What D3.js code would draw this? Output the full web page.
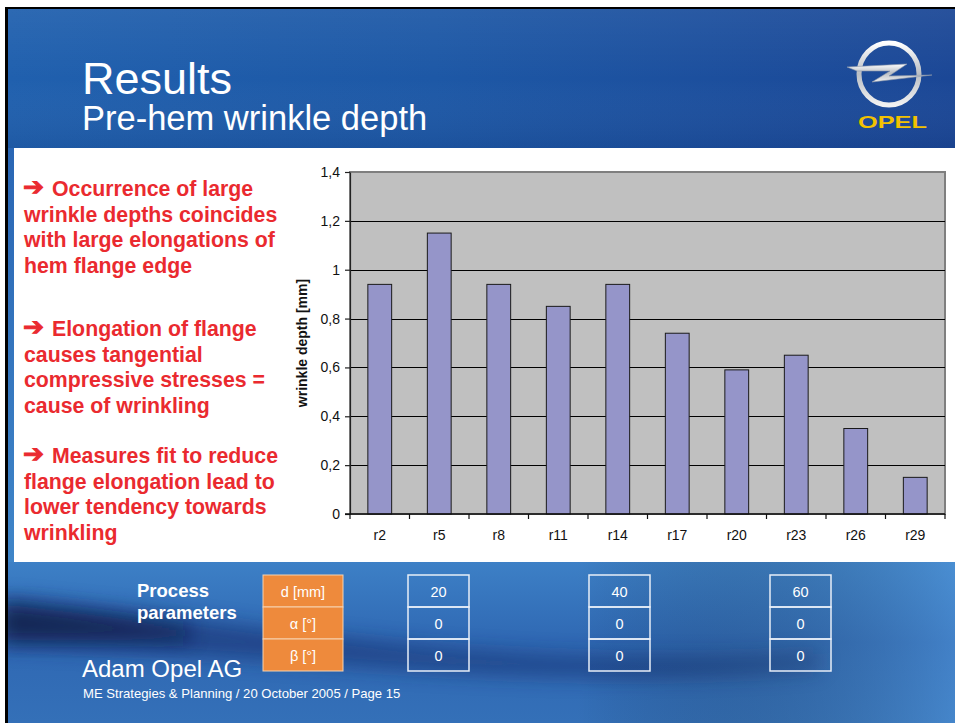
<!DOCTYPE html>
<html>
<head>
<meta charset="utf-8">
<script src="https://cdn.jsdelivr.net/npm/d3@7"></script>
<style>
  body { margin: 0; background: #fff; }
  svg { display: block; }
</style>
</head>
<body>
<div id="chart"></div>
<script>
// chart data
const categories = ['r2', 'r5', 'r8', 'r11', 'r14', 'r17', 'r20', 'r23', 'r26', 'r29']
const wrinkleDepth = [0.94, 1.15, 0.94, 0.85, 0.94, 0.74, 0.59, 0.65, 0.35, 0.15]
const yTicks = [0, 0.2, 0.4, 0.6, 0.8, 1, 1.2, 1.4]

// process parameter table
const paramLabels = ['d [mm]', 'α [°]', 'β [°]']
const paramSets = [[20, 0, 0], [40, 0, 0], [60, 0, 0]]

// slide text
const bullets = [
  ['Occurrence of large', 'wrinkle depths coincides', 'with large elongations of', 'hem flange edge'],
  ['Elongation of flange', 'causes tangential', 'compressive stresses =', 'cause of wrinkling'],
  ['Measures fit to reduce', 'flange elongation lead to', 'lower tendency towards', 'wrinkling']
]

const W = 955, H = 723
const plot = { left: 350, right: 945, top: 172, bottom: 514 }

const svg = d3.select('#chart').append('svg')
  .attr('width', W)
  .attr('height', H)
  .style('font-family', 'Arial, "Liberation Sans", Helvetica, sans-serif')

const defs = svg.append('defs')

const lin = (id, x2, y2, stops) => {
  const g = defs.append('linearGradient').attr('id', id)
    .attr('x1', 0).attr('y1', 0).attr('x2', x2).attr('y2', y2)
  stops.forEach(s => g.append('stop').attr('offset', s[0]).attr('stop-color', s[1]))
}
lin('head', 1, 0, [[0, '#2060ae'], [0.45, '#1d58a6'], [1, '#1b4796']])
lin('headV', 0, 1, [[0, 'rgba(255,255,255,0.06)'], [0.5, 'rgba(255,255,255,0)'], [1, 'rgba(0,0,40,0.08)']])
lin('foot', 0, 1, [[0, '#3d80c6'], [0.5, '#2f68b3'], [1, '#3470b8']])
lin('footH', 1, 0, [[0, 'rgba(0,0,0,0)'], [0.6, 'rgba(0,0,0,0)'], [1, 'rgba(90,160,225,0.45)']])
lin('stripe', 0, 1, [[0, '#2a66b4'], [1, '#3f85c8']])
lin('silver', 0, 1, [[0, '#ffffff'], [0.5, '#b9bec4'], [1, '#f2f2f2']])

defs.append('filter').attr('id', 'blur')
  .attr('x', '-20%').attr('y', '-50%').attr('width', '140%').attr('height', '200%')
  .append('feGaussianBlur').attr('stdDeviation', 10)

defs.append('clipPath').attr('id', 'footClip')
  .append('rect').attr('x', 8).attr('y', 562).attr('width', W - 8).attr('height', H - 562)

// page frame
svg.append('rect').attr('x', 5).attr('y', 7).attr('width', W - 5).attr('height', H - 7).attr('fill', '#000')
svg.append('rect').attr('x', 8).attr('y', 9).attr('width', W - 8).attr('height', 140).attr('fill', 'url(#head)')
svg.append('rect').attr('x', 8).attr('y', 9).attr('width', W - 8).attr('height', 140).attr('fill', 'url(#headV)')
svg.append('rect').attr('x', 8).attr('y', 148).attr('width', 6).attr('height', 414).attr('fill', 'url(#stripe)')

// footer background with dark swoosh
const foot = svg.append('g').attr('clip-path', 'url(#footClip)')
foot.append('rect').attr('x', 8).attr('y', 562).attr('width', W - 8).attr('height', H - 562).attr('fill', 'url(#foot)')
foot.append('path')
  .attr('d', 'M0,598 C120,606 260,630 420,646 C560,658 700,660 820,652 L820,670 C680,682 520,678 380,668 C240,658 110,650 0,646 Z')
  .attr('fill', '#12296a').attr('opacity', 0.55).attr('filter', 'url(#blur)')
foot.append('path')
  .attr('d', 'M0,604 C60,610 120,618 190,628 L190,640 C120,640 60,640 0,640 Z')
  .attr('fill', '#07123a').attr('opacity', 0.7).attr('filter', 'url(#blur)')
foot.append('rect').attr('x', 8).attr('y', 562).attr('width', W - 8).attr('height', H - 562).attr('fill', 'url(#footH)')

svg.append('rect').attr('x', 14).attr('y', 148).attr('width', W - 14).attr('height', 414).attr('fill', '#fff')

// header titles
svg.append('text').attr('x', 82).attr('y', 94)
  .attr('fill', '#fff').attr('font-size', 45).text('Results')
svg.append('text').attr('x', 82).attr('y', 130)
  .attr('fill', '#fff').attr('font-size', 34.5).text('Pre-hem wrinkle depth')

// logo
const logo = svg.append('g')
logo.append('ellipse').attr('cx', 889).attr('cy', 74).attr('rx', 30).attr('ry', 31)
  .attr('fill', 'none').attr('stroke', 'url(#silver)').attr('stroke-width', 5)
logo.append('path')
  .attr('d', 'M847,67 L907,64 L889,76 L932,75 L872,82 L890,71 L857,71 Z')
  .attr('fill', 'url(#silver)').attr('stroke', '#8a96a8').attr('stroke-width', 0.6)
logo.append('text').attr('x', 858).attr('y', 128)
  .attr('font-size', 17).attr('font-weight', 'bold')
  .attr('textLength', 69).attr('lengthAdjust', 'spacingAndGlyphs')
  .attr('fill', '#f2c200').text('OPEL')

// bullet text
const lineH = 25.7
const paraTop = [196, 336, 463]
bullets.forEach((lines, p) => {
  const t = svg.append('text')
    .attr('fill', '#ea2a2f').attr('font-size', 21.3).attr('font-weight', 'bold')
  lines.forEach((l, i) => {
    if (i === 0) {
      t.append('tspan').attr('x', 23).attr('y', paraTop[p] - 1)
        .style('font-family', '"DejaVu Sans", sans-serif').attr('font-size', 25)
        .attr('stroke', '#ea2a2f').attr('stroke-width', 1).text('➔')
      t.append('tspan').attr('x', 52).attr('y', paraTop[p]).text(l)
    } else {
      t.append('tspan').attr('x', 24).attr('y', paraTop[p] + i * lineH).text(l)
    }
  })
})

// scales
const x = d3.scaleBand()
  .domain(categories)
  .range([plot.left, plot.right])
  .paddingInner(0.6)
  .paddingOuter(0.3)

const slot = d3.scaleBand()
  .domain(categories)
  .range([plot.left, plot.right])

const y = d3.scaleLinear()
  .domain([0, 1.4])
  .range([plot.bottom, plot.top])

const comma = d3.formatLocale({ decimal: ',', thousands: '.', grouping: [3], currency: ['', ''] }).format('~g')

// plot area
svg.append('rect')
  .attr('x', plot.left).attr('y', plot.top)
  .attr('width', plot.right - plot.left).attr('height', plot.bottom - plot.top)
  .attr('fill', '#c0c0c0')
  .attr('stroke', '#7f7f7f').attr('stroke-width', 2)

svg.append('g').selectAll('line')
  .data(yTicks.filter(d => d > 0 && d < 1.4))
  .enter().append('line')
  .attr('x1', plot.left).attr('x2', plot.right)
  .attr('y1', d => Math.round(y(d)) + 0.5).attr('y2', d => Math.round(y(d)) + 0.5)
  .attr('stroke', '#000')

svg.append('g').selectAll('rect')
  .data(wrinkleDepth)
  .enter().append('rect')
  .attr('x', (d, i) => x(categories[i]))
  .attr('width', x.bandwidth())
  .attr('y', d => y(d))
  .attr('height', d => y(0) - y(d))
  .attr('fill', '#9595c9')
  .attr('stroke', '#1a1a1a').attr('stroke-width', 1)

// y axis
const yAxis = d3.axisLeft(y).tickValues(yTicks).tickFormat(comma).tickSize(5).tickSizeOuter(0).tickPadding(5)
const yGuide = svg.append('g').attr('transform', 'translate(' + plot.left + ',0)')
yAxis(yGuide)
yGuide.selectAll('text').attr('font-size', 14).attr('font-family', 'Arial, "Liberation Sans", sans-serif').attr('fill', '#111')
yGuide.selectAll('line, path').attr('stroke', '#222').attr('stroke-width', 1.2)

// x axis, ticks sit between categories
const xAxis = d3.axisBottom(x).tickSize(0).tickPadding(16)
const xGuide = svg.append('g').attr('transform', 'translate(0,' + plot.bottom + ')')
xAxis(xGuide)
xGuide.select('.domain').remove()
xGuide.selectAll('text').attr('font-size', 14).attr('font-family', 'Arial, "Liberation Sans", sans-serif').attr('fill', '#111')
svg.append('line')
  .attr('x1', plot.left - 5).attr('x2', plot.right)
  .attr('y1', plot.bottom).attr('y2', plot.bottom)
  .attr('stroke', '#111').attr('stroke-width', 1.3)
svg.append('g').selectAll('line')
  .data(categories.concat(['end']))
  .enter().append('line')
  .attr('x1', (d, i) => i < categories.length ? slot(d) : plot.right)
  .attr('x2', (d, i) => i < categories.length ? slot(d) : plot.right)
  .attr('y1', plot.bottom).attr('y2', plot.bottom + 5)
  .attr('stroke', '#111').attr('stroke-width', 1.2)

svg.append('text')
  .attr('transform', 'translate(307,' + (plot.top + plot.bottom) / 2 + ') rotate(-90)')
  .attr('text-anchor', 'middle')
  .attr('font-size', 14).attr('font-weight', 'bold').attr('fill', '#111')
  .text('wrinkle depth [mm]')

// process parameters table
svg.append('text').attr('fill', '#fff').attr('font-size', 18.5).attr('font-weight', 'bold')
  .selectAll('tspan').data(['Process', 'parameters']).enter().append('tspan')
  .attr('x', 137).attr('y', (d, i) => 597 + i * 21.5).text(d => d)

const row = d3.scaleBand().domain(paramLabels).range([575, 671])
const col = d3.scalePoint().domain(d3.range(paramSets.length)).range([408, 770])
const cellW = 61

const head = svg.append('g')
head.selectAll('rect').data(paramLabels).enter().append('rect')
  .attr('x', 263).attr('y', d => row(d)).attr('width', 80).attr('height', row.bandwidth())
  .attr('fill', '#ee8a3c').attr('stroke', '#f6d2b0').attr('stroke-width', 1)
head.selectAll('text').data(paramLabels).enter().append('text')
  .attr('x', 303).attr('y', d => row(d) + row.bandwidth() / 2 + 5.5)
  .attr('text-anchor', 'middle').attr('fill', '#fff').attr('font-size', 14.5).text(d => d)

paramSets.forEach((set, c) => {
  const g = svg.append('g')
  g.selectAll('rect').data(set).enter().append('rect')
    .attr('x', col(c)).attr('y', (d, i) => row(paramLabels[i]))
    .attr('width', cellW).attr('height', row.bandwidth())
    .attr('fill', 'none').attr('stroke', '#e8eef8').attr('stroke-width', 1.5)
  g.selectAll('text').data(set).enter().append('text')
    .attr('x', col(c) + cellW / 2).attr('y', (d, i) => row(paramLabels[i]) + row.bandwidth() / 2 + 5.5)
    .attr('text-anchor', 'middle').attr('fill', '#fff').attr('font-size', 14.5).text(d => d)
})

// footer text
svg.append('text').attr('x', 82).attr('y', 677).attr('fill', '#fff').attr('font-size', 24).text('Adam Opel AG')
svg.append('text').attr('x', 83).attr('y', 698).attr('fill', '#fff').attr('font-size', 13.1).text('ME Strategies & Planning / 20 October 2005 / Page 15')
</script>
</body>
</html>
